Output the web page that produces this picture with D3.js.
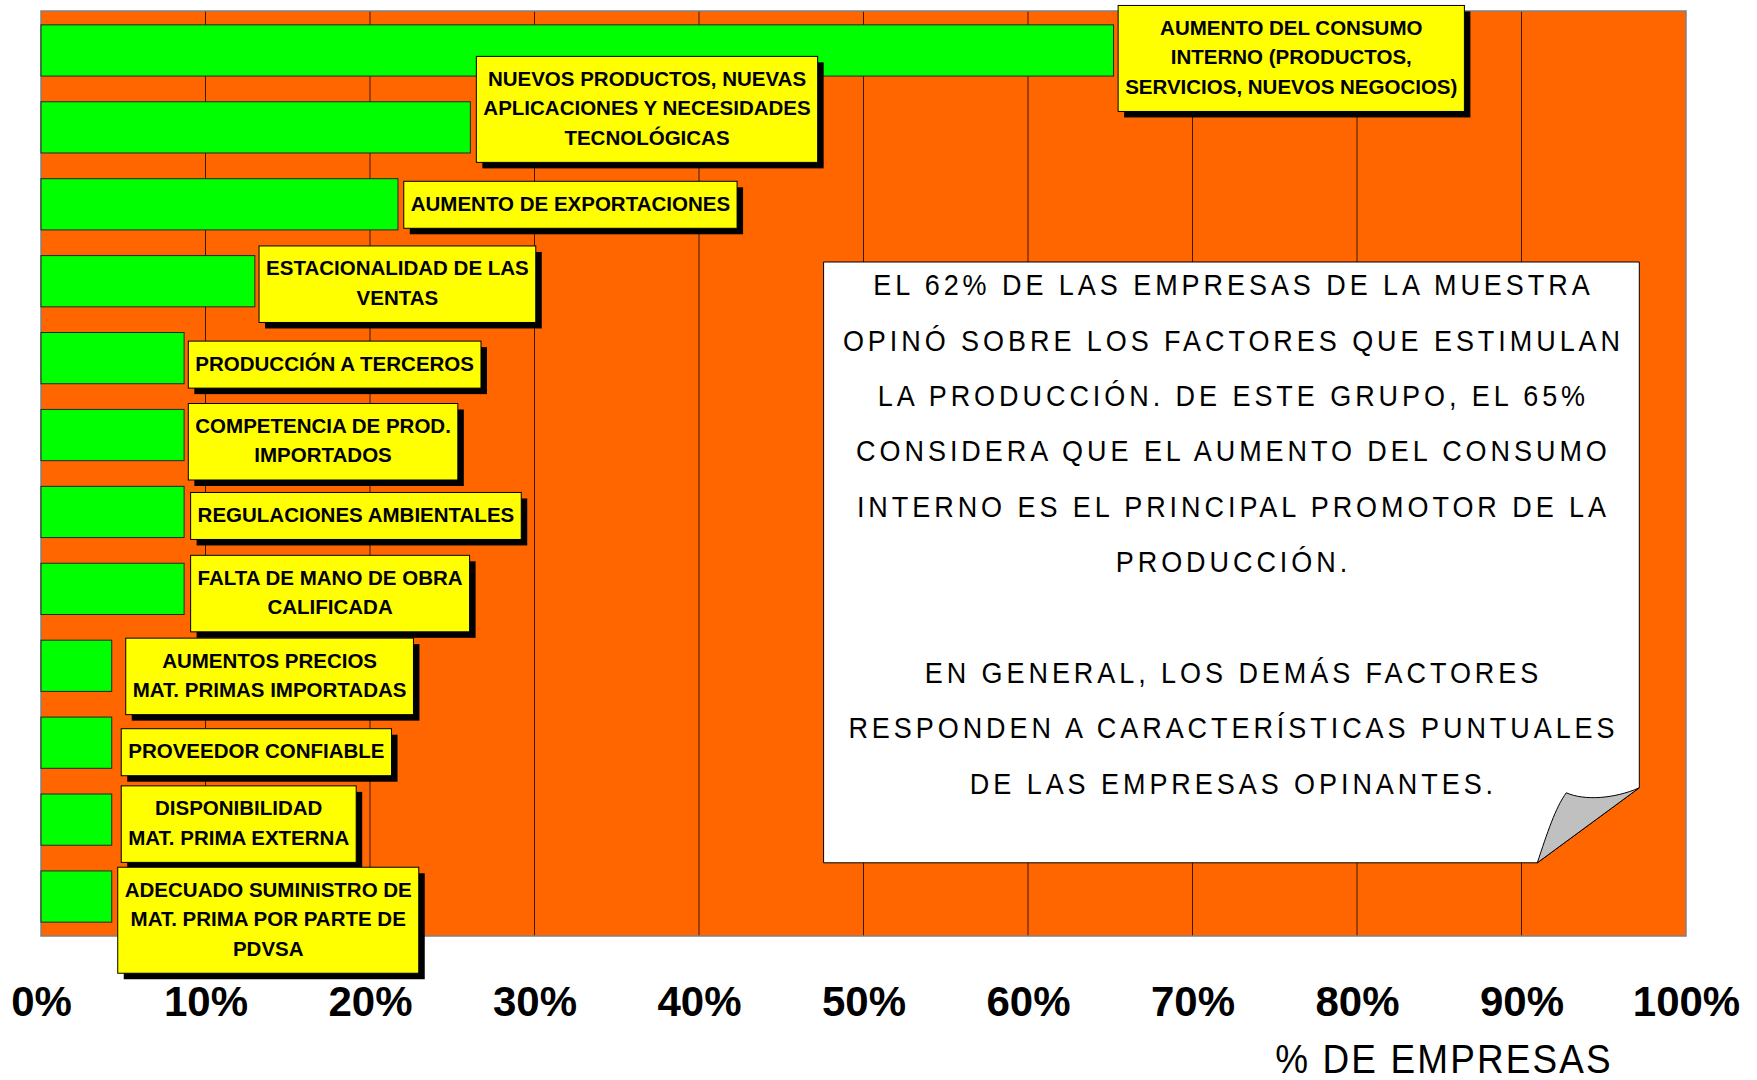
<!DOCTYPE html>
<html>
<head>
<meta charset="utf-8">
<script src="https://cdn.jsdelivr.net/npm/d3@7"></script>
<style>
  html, body { margin: 0; padding: 0; background: #ffffff; }
  svg { display: block; font-family: "Liberation Sans", Arial, sans-serif; }
</style>
</head>
<body>
<svg id="chart"></svg>
<script>
// [A] Datos -------------------------------------------------------------------
const factores = [
  "AUMENTO DEL CONSUMO INTERNO",
  "NUEVOS PRODUCTOS",
  "AUMENTO DE EXPORTACIONES",
  "ESTACIONALIDAD DE LAS VENTAS",
  "PRODUCCION A TERCEROS",
  "COMPETENCIA DE PROD. IMPORTADOS",
  "REGULACIONES AMBIENTALES",
  "FALTA DE MANO DE OBRA CALIFICADA",
  "AUMENTOS PRECIOS MAT. PRIMAS",
  "PROVEEDOR CONFIABLE",
  "DISPONIBILIDAD MAT. PRIMA EXTERNA",
  "ADECUADO SUMINISTRO PDVSA"
];

// % de empresas (lectura del grafico)
const porcentajes = [65.2, 26.1, 21.7, 13.0, 8.7, 8.7, 8.7, 8.7, 4.3, 4.3, 4.3, 4.3];

// Texto de cada etiqueta, por lineas
const etiquetas = [
  ["AUMENTO DEL CONSUMO", "INTERNO (PRODUCTOS,", "SERVICIOS, NUEVOS NEGOCIOS)"],
  ["NUEVOS PRODUCTOS, NUEVAS", "APLICACIONES Y NECESIDADES", "TECNOLÓGICAS"],
  ["AUMENTO DE EXPORTACIONES"],
  ["ESTACIONALIDAD DE LAS", "VENTAS"],
  ["PRODUCCIÓN A TERCEROS"],
  ["COMPETENCIA DE PROD.", "IMPORTADOS"],
  ["REGULACIONES AMBIENTALES"],
  ["FALTA DE MANO DE OBRA", "CALIFICADA"],
  ["AUMENTOS PRECIOS", "MAT. PRIMAS IMPORTADAS"],
  ["PROVEEDOR CONFIABLE"],
  ["DISPONIBILIDAD", "MAT. PRIMA EXTERNA"],
  ["ADECUADO SUMINISTRO DE", "MAT. PRIMA POR PARTE DE", "PDVSA"]
];

const ticks = [0, 10, 20, 30, 40, 50, 60, 70, 80, 90, 100];

const nota = [
  "EL 62% DE LAS EMPRESAS DE LA MUESTRA",
  "OPINÓ SOBRE LOS FACTORES QUE ESTIMULAN",
  "LA PRODUCCIÓN. DE ESTE GRUPO, EL 65%",
  "CONSIDERA QUE EL AUMENTO DEL CONSUMO",
  "INTERNO ES EL PRINCIPAL PROMOTOR DE LA",
  "PRODUCCIÓN.",
  "",
  "EN GENERAL, LOS DEMÁS FACTORES",
  "RESPONDEN A CARACTERÍSTICAS PUNTUALES",
  "DE LAS EMPRESAS OPINANTES."
];

// [B] Layout ------------------------------------------------------------------
const width = 1757;
const height = 1080;
const plot = { left: 41, right: 1686, top: 11, bottom: 936 };

// desplazamiento manual de cada etiqueta [dx desde fin de barra, dy desde centro]
const ajusteEtiqueta = [
  [4.6, 8], [6, -18], [5.8, 0.5], [4.2, 3], [4.2, 6.5], [4.2, 6.7],
  [6.5, 4], [6.5, 4.7], [14, 10.6], [9.5, 9.5], [9.5, 4.5], [6, 23.7]
];

const svg = d3.select("#chart")
  .attr("width", width)
  .attr("height", height);

const x = d3.scaleLinear()
  .domain([0, 100])
  .range([plot.left, plot.right]);

const y = d3.scaleBand()
  .domain(factores)
  .range([plot.top, plot.bottom])
  .paddingInner(0.334)
  .paddingOuter(0.18);

// [C] Fondo y cuadricula -------------------------------------------------------
svg.append("rect")
  .attr("x", plot.left)
  .attr("y", plot.top)
  .attr("width", plot.right - plot.left)
  .attr("height", plot.bottom - plot.top)
  .attr("fill", "#ff6600");

svg.append("g")
  .selectAll("line")
  .data(ticks.slice(1, -1))
  .join("line")
  .attr("x1", d => x(d))
  .attr("x2", d => x(d))
  .attr("y1", plot.top)
  .attr("y2", plot.bottom)
  .attr("stroke", "#3a1a00")
  .attr("stroke-width", 1);

svg.append("rect")
  .attr("x", plot.left)
  .attr("y", plot.top)
  .attr("width", plot.right - plot.left)
  .attr("height", plot.bottom - plot.top)
  .attr("fill", "none")
  .attr("stroke", "#808080")
  .attr("stroke-width", 1.5);

// [D] Nota (hoja con esquina doblada) ---------------------------------------
const hoja = { x0: 823.6, y0: 262, x1: 1639.3, y1: 862.8 };
const notaG = svg.append("g");
notaG.append("path")
  .attr("d", `M${hoja.x0},${hoja.y0} L${hoja.x1},${hoja.y0} L${hoja.x1},${hoja.y1 - 75}
              L${hoja.x1 - 102},${hoja.y1} L${hoja.x0},${hoja.y1} Z`)
  .attr("fill", "#ffffff")
  .attr("stroke", "#000")
  .attr("stroke-width", 1);

notaG.append("path")
  .attr("d", `M${hoja.x1 - 102},${hoja.y1}
              C${hoja.x1 - 92},${hoja.y1 - 30} ${hoja.x1 - 84},${hoja.y1 - 55} ${hoja.x1 - 73},${hoja.y1 - 70}
              C${hoja.x1 - 55},${hoja.y1 - 62} ${hoja.x1 - 25},${hoja.y1 - 64} ${hoja.x1},${hoja.y1 - 75} Z`)
  .attr("fill", "#c0c0c0")
  .attr("stroke", "#000")
  .attr("stroke-width", 1);

// texto algo condensado, como en el original
const cxNota = (hoja.x0 + hoja.x1) / 2;
notaG.selectAll("text")
  .data(nota)
  .join("text")
  .attr("transform", (d, i) => `translate(${cxNota + 2},${284.6 + i * 55.4}) scale(0.9,1)`)
  .attr("dominant-baseline", "central")
  .attr("text-anchor", "middle")
  .attr("font-size", 30)
  .attr("letter-spacing", 4.4)
  .attr("fill", "#000")
  .text(d => d);

// [E] Barras ------------------------------------------------------------------
svg.append("g")
  .selectAll("rect")
  .data(porcentajes)
  .join("rect")
  .attr("x", x(0))
  .attr("y", (d, i) => y(factores[i]))
  .attr("width", d => x(d) - x(0))
  .attr("height", y.bandwidth())
  .attr("fill", "#00ff00")
  .attr("stroke", "#1f2a1f")
  .attr("stroke-width", 1);

// [F] Etiquetas ---------------------------------------------------------------
const lineH = 29.5;
const etiquetaG = svg.append("g")
  .selectAll("g")
  .data(porcentajes)
  .join("g");

etiquetaG.each(function (d, i) {
  const g = d3.select(this);
  const lines = etiquetas[i];
  const [dx, dy] = ajusteEtiqueta[i];
  const boxH = 17.5 + lineH * lines.length;
  const cy = y(factores[i]) + y.bandwidth() / 2 + dy;
  const left = x(d) + dx;

  const shadow = g.append("rect").attr("fill", "#000");
  const box = g.append("rect")
    .attr("fill", "#ffff00")
    .attr("stroke", "#000")
    .attr("stroke-width", 1);

  const texts = g.selectAll("text")
    .data(lines)
    .join("text")
    .attr("y", (t, k) => cy + (k - (lines.length - 1) / 2) * lineH - 1.5)
    .attr("dominant-baseline", "central")
    .attr("text-anchor", "middle")
    .attr("font-size", 20.5)
    .attr("font-weight", "bold")
    .attr("fill", "#000")
    .text(t => t);

  let maxW = 0;
  texts.each(function () { maxW = Math.max(maxW, this.getComputedTextLength()); });
  const boxW = maxW + 14;
  texts.attr("x", left + boxW / 2);

  box.attr("x", left).attr("y", cy - boxH / 2).attr("width", boxW).attr("height", boxH);
  shadow.attr("x", left + 6).attr("y", cy - boxH / 2 + 6).attr("width", boxW).attr("height", boxH);
});

// [G] Eje X -------------------------------------------------------------------
const axis = svg.append("g")
  .attr("transform", `translate(0,${plot.bottom})`)
  .call(d3.axisBottom(x).tickValues(ticks).tickFormat(d => d + "%").tickSize(0));

axis.select(".domain").remove();
axis.selectAll("text")
  .attr("y", 80)
  .attr("dy", 0)
  .attr("font-size", 42)
  .attr("font-weight", "bold")
  .attr("font-family", "'Liberation Sans', Arial, sans-serif")
  .attr("fill", "#000");

svg.append("text")
  .attr("transform", "translate(1444,1073) scale(0.9,1)")
  .attr("text-anchor", "middle")
  .attr("font-size", 41)
  .attr("letter-spacing", 2.4)
  .attr("fill", "#000")
  .text("% DE EMPRESAS");
</script>
</body>
</html>
